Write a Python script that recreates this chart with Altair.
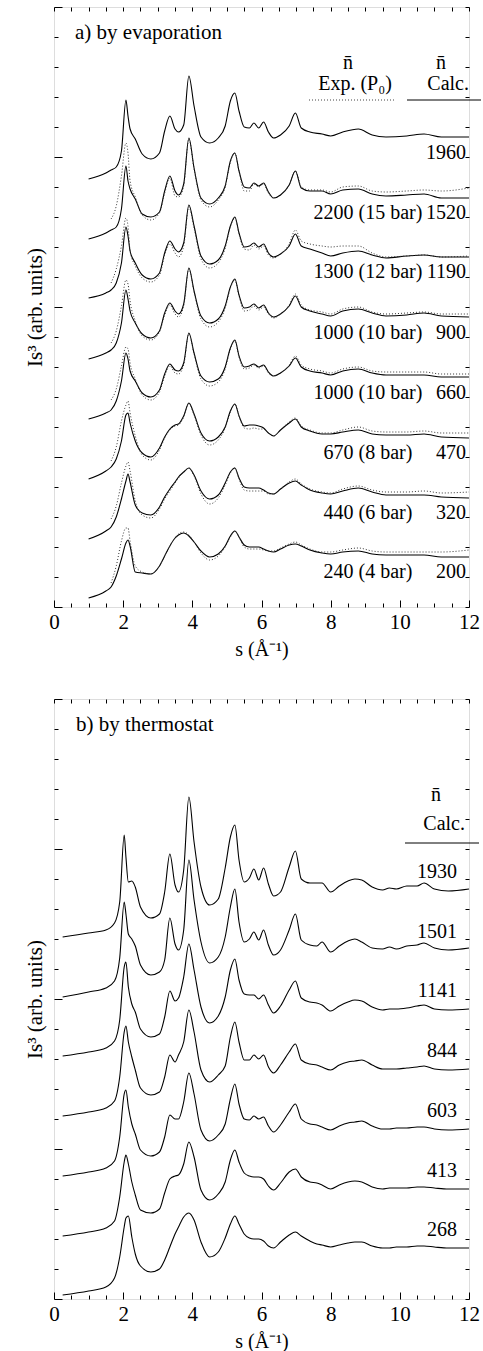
import altair as alt
import pandas as pd

FONT = "Liberation Serif"

# ---------------- panel a) by evaporation ----------------
s_top = [1.0, 1.5, 1.65, 1.8, 1.95, 2.08, 2.14, 2.2, 2.35, 2.55, 2.8, 3.05, 3.2, 3.35, 3.5,
         3.6, 3.75, 3.9, 4.05, 4.25, 4.5, 4.75, 4.95, 5.1, 5.23, 5.35, 5.5, 5.65, 5.78, 5.92,
         6.06, 6.2, 6.35, 6.55, 6.8, 6.98, 7.15, 7.4, 7.75, 8.0, 8.35, 8.8, 9.2, 9.6, 10.2,
         10.7, 11.2, 12.0]

calc_1960 = [428, 434, 437, 440, 456, 507, 491, 478, 468, 453, 448, 454, 476, 491, 478, 475, 482, 531,
             501, 470, 464, 469, 481, 506, 514, 496, 480, 479, 484, 479, 485, 475, 469, 472, 481, 494,
             479, 475, 473, 471, 475, 478, 472, 470, 471, 473, 470, 470]
calc_1520 = [368, 374, 377, 380, 398, 441, 426, 418, 408, 393, 390, 395, 416, 431, 416, 412, 423, 469,
             439, 409, 403, 409, 421, 446, 454, 436, 420, 419, 424, 421, 424, 415, 409, 412, 422, 436,
             419, 416, 416, 413, 417, 418, 413, 411, 412, 413, 409, 409]
calc_1190 = [309, 314, 317, 324, 344, 380, 371, 356, 344, 332, 328, 334, 354, 366, 358, 355, 364, 402,
             381, 351, 343, 347, 361, 381, 390, 374, 360, 361, 364, 360, 363, 354, 350, 353, 361, 373,
             361, 358, 354, 351, 354, 356, 352, 349, 351, 352, 350, 350]
calc_900 = [248, 254, 257, 264, 284, 317, 308, 296, 284, 273, 269, 276, 294, 304, 296, 293, 303, 339,
            316, 291, 284, 288, 301, 320, 328, 312, 299, 300, 303, 299, 302, 294, 290, 293, 301, 311,
            300, 296, 293, 291, 296, 298, 294, 291, 292, 294, 291, 290]
calc_660 = [188, 194, 197, 206, 226, 254, 248, 236, 226, 214, 210, 217, 233, 243, 237, 236, 244, 274,
            254, 231, 225, 228, 240, 259, 267, 251, 240, 241, 243, 240, 242, 235, 231, 234, 241, 249,
            240, 236, 234, 232, 236, 238, 234, 232, 232, 232, 230, 230]
calc_470 = [128, 136, 140, 148, 166, 192, 194, 184, 166, 154, 150, 159, 170, 178, 182, 183, 191, 204,
            193, 174, 166, 170, 180, 196, 203, 191, 181, 182, 182, 181, 179, 174, 171, 177, 184, 188,
            180, 176, 173, 173, 175, 177, 173, 172, 172, 173, 170, 169]
calc_320 = [68, 76, 80, 90, 108, 126, 133, 125, 102, 94, 92, 100, 110, 118, 125, 130, 135, 139,
            132, 116, 108, 112, 124, 135, 139, 129, 120, 119, 119, 119, 117, 114, 113, 118, 124, 126,
            122, 117, 114, 113, 116, 119, 115, 112, 112, 112, 110, 109]
calc_200 = [9, 16, 20, 31, 48, 64, 67, 61, 35, 34, 33, 41, 51, 61, 69, 72, 74, 71,
            65, 56, 50, 53, 61, 71, 76, 70, 62, 60, 60, 60, 58, 56, 55, 58, 62, 63,
            61, 57, 54, 53, 55, 56, 53, 52, 52, 52, 50, 50]

# experimental curves start at s = 1.65 (third grid point)
exp_2200 = [388, 401, 431, 464, 454, 426, 410, 392, 387, 394, 414, 429, 411, 410, 421, 468, 438, 407,
            400, 407, 420, 445, 454, 436, 416, 416, 423, 420, 423, 414, 409, 412, 422, 436, 420, 417,
            417, 415, 420, 421, 416, 415, 416, 417, 416, 419]
exp_1300 = [324, 338, 361, 389, 381, 356, 341, 329, 325, 332, 352, 363, 354, 350, 361, 400, 379, 348,
            339, 344, 359, 380, 389, 373, 358, 357, 362, 358, 361, 352, 349, 353, 363, 377, 366, 363,
            361, 360, 361, 361, 354, 350, 351, 352, 350, 351]
exp_1000a = [264, 276, 301, 327, 323, 306, 286, 271, 267, 275, 292, 302, 293, 290, 301, 338, 315, 288,
             280, 285, 299, 319, 327, 311, 296, 297, 301, 297, 300, 293, 289, 293, 302, 313, 302, 297,
             295, 293, 298, 300, 295, 293, 294, 295, 293, 293]
exp_1000b = [207, 218, 241, 260, 258, 244, 228, 212, 207, 215, 231, 241, 234, 233, 242, 273, 253, 228,
             221, 225, 238, 258, 266, 250, 238, 239, 242, 239, 241, 234, 231, 234, 242, 251, 242, 238,
             236, 234, 238, 240, 236, 235, 235, 235, 233, 233]
exp_670 = [146, 160, 186, 202, 206, 194, 171, 152, 147, 157, 169, 177, 181, 182, 190, 204, 192, 172,
           162, 167, 179, 195, 203, 191, 179, 178, 179, 178, 178, 174, 171, 177, 185, 189, 181, 177,
           174, 174, 177, 180, 176, 175, 175, 176, 174, 174]
exp_440 = [88, 101, 124, 141, 145, 136, 106, 92, 89, 98, 108, 116, 124, 129, 135, 139, 131, 113,
           103, 109, 122, 134, 139, 128, 117, 116, 116, 116, 116, 113, 113, 118, 125, 128, 123, 118,
           115, 114, 118, 121, 117, 115, 115, 116, 114, 115]
exp_240 = [24, 41, 66, 79, 79, 66, 41, 35, 33, 41, 51, 61, 69, 73, 75, 72, 65, 54,
           47, 51, 60, 70, 76, 70, 60, 58, 58, 58, 57, 56, 56, 59, 63, 65, 62, 58,
           55, 55, 57, 59, 56, 55, 55, 55, 55, 57]

top_calc_names = ["1960", "1520", "1190", "900", "660", "470", "320", "200"]
top_exp_names = ["", "2200 (15 bar)", "1300 (12 bar)", "1000 (10 bar)", "1000 (10 bar)",
                 "670 (8 bar)", "440 (6 bar)", "240 (4 bar)"]
top_calc = [calc_1960, calc_1520, calc_1190, calc_900, calc_660, calc_470, calc_320, calc_200]
top_exp = [None, exp_2200, exp_1300, exp_1000a, exp_1000b, exp_670, exp_440, exp_240]

# ---------------- panel b) by thermostat ----------------
s_bot = [0.25, 1.0, 1.5, 1.75, 1.9, 2.03, 2.08, 2.15, 2.25, 2.35, 2.5, 2.8, 3.05, 3.2, 3.35,
         3.5, 3.6, 3.75, 3.9, 4.05, 4.25, 4.5, 4.75, 4.95, 5.1, 5.23, 5.35, 5.5, 5.65, 5.78,
         5.92, 6.06, 6.2, 6.35, 6.55, 6.8, 6.98, 7.15, 7.4, 7.6, 7.75, 8.0, 8.25, 8.5, 8.7,
         8.9, 9.2, 9.5, 9.7, 9.9, 10.2, 10.5, 10.7, 11.0, 11.4, 12.0]

therm_1930 = [362, 366, 369, 376, 397, 464, 442, 417, 418, 412, 392, 381, 385, 407, 445, 414, 407, 429,
              502, 457, 412, 394, 400, 431, 462, 474, 439, 417, 421, 430, 419, 431, 415, 403, 407, 432,
              448, 420, 416, 416, 416, 407, 413, 418, 420, 419, 412, 409, 411, 410, 413, 413, 416, 410,
              408, 410]
therm_1501 = [302, 307, 311, 318, 341, 397, 385, 365, 360, 353, 334, 324, 327, 339, 381, 355, 349, 369,
              439, 399, 357, 336, 342, 362, 392, 410, 377, 357, 360, 367, 359, 369, 354, 344, 349, 369,
              385, 359, 354, 353, 357, 347, 353, 358, 360, 357, 351, 350, 352, 350, 353, 354, 356, 351,
              349, 351]
therm_1141 = [243, 247, 251, 258, 279, 332, 337, 312, 295, 287, 270, 262, 265, 282, 308, 298, 301, 322,
              355, 329, 292, 276, 283, 302, 329, 340, 319, 305, 304, 304, 300, 304, 294, 286, 293, 309,
              318, 301, 297, 296, 294, 288, 293, 297, 299, 298, 292, 289, 290, 290, 291, 293, 294, 290,
              289, 290]
therm_844 = [183, 187, 191, 198, 222, 267, 273, 257, 242, 229, 211, 204, 207, 222, 244, 237, 244, 257,
             289, 267, 229, 217, 224, 233, 262, 277, 257, 239, 239, 244, 240, 244, 232, 226, 234, 247,
             255, 239, 235, 234, 232, 229, 234, 237, 238, 239, 234, 230, 230, 230, 231, 232, 233, 230,
             229, 230]
therm_603 = [123, 127, 131, 138, 162, 205, 209, 192, 175, 165, 149, 143, 147, 162, 184, 180, 180, 197,
             226, 205, 169, 158, 164, 175, 200, 215, 195, 180, 179, 183, 180, 182, 173, 167, 174, 187,
             195, 180, 175, 174, 172, 169, 173, 176, 177, 178, 173, 170, 170, 171, 171, 172, 172, 170,
             169, 170]
therm_413 = [63, 67, 71, 78, 102, 137, 144, 135, 117, 104, 89, 86, 90, 106, 120, 123, 124, 135,
             157, 142, 109, 99, 105, 117, 139, 149, 137, 126, 123, 122, 122, 120, 113, 109, 116, 127,
             130, 122, 117, 116, 114, 110, 114, 117, 118, 117, 112, 110, 111, 111, 111, 112, 112, 111,
             110, 110]
therm_268 = [4, 8, 12, 21, 42, 72, 81, 83, 62, 45, 33, 27, 30, 39, 52, 65, 72, 82,
             86, 79, 57, 42, 47, 61, 75, 83, 75, 65, 61, 60, 60, 58, 53, 51, 57, 64,
             67, 63, 58, 55, 54, 52, 54, 56, 57, 57, 53, 51, 51, 52, 52, 53, 53, 52,
             51, 51]

bot_names = ["1930", "1501", "1141", "844", "603", "413", "268"]
bot_calc = [therm_1930, therm_1501, therm_1141, therm_844, therm_603, therm_413, therm_268]

for c in top_calc:
    assert len(c) == len(s_top), len(c)
for e in top_exp[1:]:
    assert len(e) == len(s_top) - 2, len(e)
for c in bot_calc:
    assert len(c) == len(s_bot), len(c)

# ---------------- tables ----------------
rows = []
for name, vals in zip(top_calc_names, top_calc):
    for s, v in zip(s_top, vals):
        rows.append({"curve": name, "s": s, "v": v})
top_solid_df = pd.DataFrame(rows)

rows = []
for name, vals in zip(top_exp_names, top_exp):
    if vals is None:
        continue
    for s, v in zip(s_top[2:], vals):
        rows.append({"curve": name + "_" + str(vals[0]), "s": s, "v": v})
top_dot_df = pd.DataFrame(rows)

top_lab_df = pd.DataFrame({
    "calc": top_calc_names,
    "exp": top_exp_names,
    "start": [c[0] for c in top_calc],
})

rows = []
for name, vals in zip(bot_names, bot_calc):
    for s, v in zip(s_bot, vals):
        rows.append({"curve": name, "s": s, "v": v})
bot_solid_df = pd.DataFrame(rows)

bot_lab_df = pd.DataFrame({"calc": bot_names, "start": [c[0] for c in bot_calc]})

# ---------------- chart pieces ----------------
W, H = 415, 600
xs = alt.Scale(domain=[0, 12], nice=False, zero=False)
ys = alt.Scale(domain=[0, 600], nice=False, zero=False)
minor_x = [i * 0.5 for i in range(25)]
minor_y = list(range(0, 601, 30))
one = alt.Data(values=[{"k": 1}])


def frame_layers(df):
    main_axes = dict(
        x=alt.X("s:Q", scale=xs, axis=alt.Axis(
            values=[0, 2, 4, 6, 8, 10, 12], ticks=False, domain=False, grid=False,
            labelFont=FONT, labelFontSize=21, labelColor="black", labelPadding=4,
            labelFlush=False, title="s (Å⁻¹)", titleFont=FONT, titleFontSize=20,
            titleFontWeight="normal", titleColor="black", titlePadding=7)),
        y=alt.Y("v:Q", scale=ys, axis=alt.Axis(
            ticks=False, labels=False, domain=False, grid=False,
            title="Is³ (arb. units)", titleFont=FONT, titleFontSize=21,
            titleFontWeight="normal", titleColor="black", titlePadding=9)),
    )
    solid = alt.Chart(df).mark_line(color="black", strokeWidth=1.1, interpolate="monotone").encode(
        detail="curve:N", **main_axes)
    ticks_a = alt.Chart(df).mark_line(opacity=0).encode(
        x=alt.X("s:Q", scale=xs, axis=alt.Axis(
            orient="top", offset=-H, values=minor_x, labels=False, domain=False, grid=False,
            title="", tickColor="black", tickWidth=1,
            tickSize={"condition": {"test": "datum.value % 2 === 0", "value": 7}, "value": 4})),
        y=alt.Y("v:Q", scale=ys, axis=alt.Axis(
            orient="right", offset=-W, values=minor_y, labels=False, domain=False, grid=False,
            title="", tickColor="black", tickWidth=1,
            tickSize={"condition": {"test": "datum.value % 150 === 0", "value": 8}, "value": 4})),
        detail="curve:N")
    ticks_b = alt.Chart(df).mark_line(opacity=0).encode(
        x=alt.X("s:Q", scale=xs, axis=alt.Axis(
            orient="bottom", offset=-H, values=minor_x, labels=False, domain=False, grid=False,
            title="", tickColor="black", tickWidth=1, tickSize=4)),
        y=alt.Y("v:Q", scale=ys, axis=alt.Axis(
            orient="left", offset=-W, values=minor_y, labels=False, domain=False, grid=False,
            title="", tickColor="black", tickWidth=1, tickSize=4)),
        detail="curve:N")
    return [solid, ticks_a, ticks_b]


def label(txt, x, y, align="center", size=20):
    return alt.Chart(one).mark_text(text=txt, align=align, baseline="middle", font=FONT,
                                    fontSize=size, color="black").encode(
        x=alt.value(x), y=alt.value(y))


def hrule(x1, x2, y, dash=None):
    kw = dict(color="black", strokeWidth=1)
    if dash:
        kw["strokeDash"] = dash
        kw["color"] = "#444"
    return alt.Chart(one).mark_rule(**kw).encode(x=alt.value(x1), x2=alt.value(x2), y=alt.value(y))


# top panel
top_dotted = alt.Chart(top_dot_df).mark_line(
    color="#333", strokeWidth=1, strokeDash=[1, 2], interpolate="monotone").encode(
    x=alt.X("s:Q", scale=xs, axis=None), y=alt.Y("v:Q", scale=ys, axis=None), detail="curve:N")

top_calc_txt = alt.Chart(top_lab_df).transform_calculate(ly="datum.start + 26").mark_text(
    align="right", baseline="middle", font=FONT, fontSize=20, color="black").encode(
    x=alt.value(412), y=alt.Y("ly:Q", scale=ys, axis=None), text="calc:N")
top_exp_txt = alt.Chart(top_lab_df).transform_calculate(ly="datum.start + 26").mark_text(
    align="center", baseline="middle", font=FONT, fontSize=20, color="black").encode(
    x=alt.value(314), y=alt.Y("ly:Q", scale=ys, axis=None), text="exp:N")

top = alt.layer(
    *frame_layers(top_solid_df), top_dotted, top_calc_txt, top_exp_txt,
    label("a) by evaporation", 21, 26, align="left", size=21),
    label("n\u0304", 294, 56), label("n\u0304", 387, 56),
    label("Exp. (P\u2080)", 301, 77), label("Calc.", 415, 77, align="right"),
    hrule(255, 342, 93, dash=[1, 2]), hrule(353, 427, 93),
).resolve_axis(x="independent", y="independent").properties(width=W, height=H)

# bottom panel
bot_calc_txt = alt.Chart(bot_lab_df).transform_calculate(ly="datum.start + 65").mark_text(
    align="right", baseline="middle", font=FONT, fontSize=20, color="black").encode(
    x=alt.value(403), y=alt.Y("ly:Q", scale=ys, axis=None), text="calc:N")

bottom = alt.layer(
    *frame_layers(bot_solid_df), bot_calc_txt,
    label("b) by thermostat", 22, 26, align="left", size=21),
    label("n\u0304", 382, 96), label("Calc.", 411, 125, align="right"),
    hrule(351, 425, 144),
).resolve_axis(x="independent", y="independent").properties(width=W, height=H)

chart = alt.vconcat(top, bottom, spacing=38).properties(
    padding={"left": 23, "top": 6, "right": 0, "bottom": 0},
    background="white",
).configure_view(stroke="black", strokeWidth=1).configure(font=FONT)

chart.save("out.html", embed_options={"renderer": "svg", "actions": False})
